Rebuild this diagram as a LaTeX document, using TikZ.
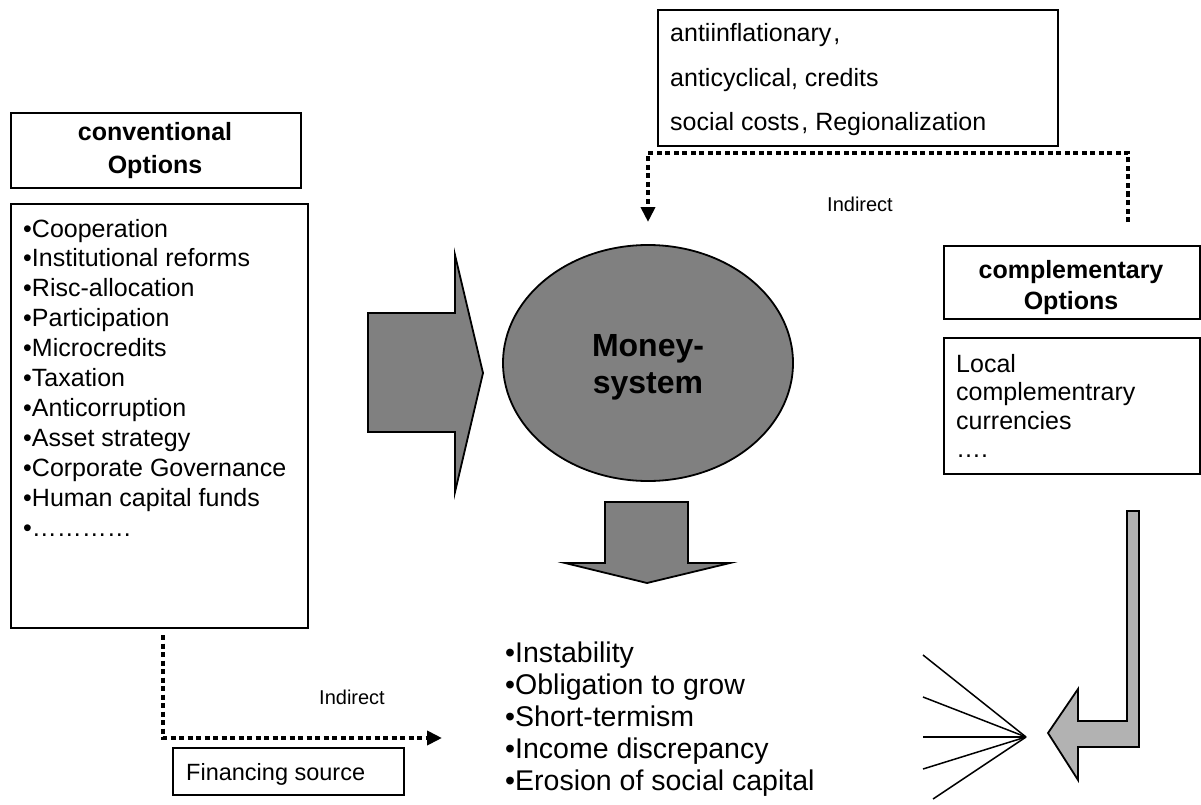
\documentclass[tikz,border=0pt]{standalone}
\usepackage{fontspec}
\setmainfont{Liberation Sans}
\usetikzlibrary{calc}
\usetikzlibrary{arrows.meta}
\usetikzlibrary{shapes.geometric}

\tikzset{
	box/.style = {draw, line width=1.8pt, inner sep=0pt, anchor=north west},
	listtext/.style = {inner sep=0pt, anchor=base west, font=\fontsize{25}{30}\selectfont},
	titletext/.style = {inner sep=0pt, anchor=base, font=\fontsize{25}{30}\selectfont\bfseries},
	bigarrow/.style = {fill=gray, draw=black, line width=1.8pt},
	indirect/.style = {line width=4.8pt, dash pattern=on 5pt off 3.5pt, -{Triangle[width=14pt,length=15pt]}},
	ray/.style = {line width=1.5pt}
}

\begin{document}
\begin{tikzpicture}[x=1pt, y=-1pt]

	\useasboundingbox (0,0) rectangle (1201,805);

	% conventional options
	\node [box, minimum width=290, minimum height=75] (convTitle) at (10,112) {};
	\node [titletext] (convTitleA) at (155,141) {conventional};
	\node [titletext] (convTitleB) at (155,174) {Options};
	\node [box, minimum width=297, minimum height=424] (convList) at (10,203) {};
	\foreach \txt [count=\i] in {Cooperation, Institutional reforms, Risc-allocation, Participation, Microcredits, Taxation, Anticorruption, Asset strategy, Corporate Governance, Human capital funds, …………}
		\node [listtext] (conv\i) at (23, {237 + 29.9*(\i-1)}) {•\txt};

	% money system
	\node [ellipse, bigarrow, minimum width=290, minimum height=236, inner sep=0pt] (money) at (648,363) {};
	\node [align=center, inner sep=0pt, font=\fontsize{32}{37}\selectfont\bfseries] (moneyText) at ($(money.center)+(0,4)$) {Money-\\system};

	% arrow into the money system
	\draw [bigarrow] (368,313) -- (455,313) -- (455,255) -- (483,373) -- (455,492) -- (455,432) -- (368,432) -- cycle;
	% arrow out of the money system
	\draw [bigarrow] (605,502) -- (688,502) -- (688,563) -- (730,563) -- (647,583) -- (565,563) -- (605,563) -- cycle;

	% conditions above
	\node [box, minimum width=400, minimum height=136] (cond) at (657,9) {};
	\foreach \txt [count=\i] in {{antiinflationary\kern2pt,}, {anticyclical, credits}, {social costs\kern2pt, Regionalization}}
		\node [listtext] (cond\i) at (670, {42 + 44.5*(\i-1)}) {\txt};

	% complementary options
	\node [box, minimum width=256, minimum height=73] (compTitle) at (943,245) {};
	\node [titletext] (compTitleA) at (1071,278) {complementary};
	\node [titletext] (compTitleB) at (1071,309) {Options};
	\node [box, minimum width=256, minimum height=136] (compList) at (943,337) {};
	\foreach \txt [count=\i] in {Local, complementrary, currencies, ….}
		\node [listtext] (comp\i) at (956, {372 + 28.5*(\i-1)}) {\txt};

	% consequences
	\foreach \txt [count=\i] in {Instability, Obligation to grow, Short-termism, Income discrepancy, Erosion of social capital}
		\node [listtext, font=\fontsize{28.5}{32}\selectfont] (cons\i) at (505, {662 + 32*(\i-1)}) {•\txt};

	% financing source
	\node [box, minimum width=231, minimum height=47] (finSrc) at (172,747) {};
	\node [listtext, font=\fontsize{23.5}{28}\selectfont] (finText) at (186,780) {Financing source};

	% indirect links
	\coordinate (compTop) at (1128,222);
	\coordinate (condR) at (1128,153);
	\coordinate (condL) at (648,153);
	\coordinate (moneyTop) at (648,222);
	\draw [indirect] (compTop) -- (condR) -- (condL) -- (moneyTop);
	\node [font=\fontsize{20}{24}\selectfont] (indTop) at (860,204) {Indirect};

	\coordinate (convBottom) at (163,635);
	\coordinate (finCorner) at (163,738);
	\coordinate (consLeft) at (442,738);
	\draw [indirect] (convBottom) -- (finCorner) -- (consLeft);
	\node [font=\fontsize{20}{24}\selectfont] (indBottom) at (352,697) {Indirect};

	% complementary arrow back to the consequences
	\draw [bigarrow, fill=gray!60] (1127,511) -- (1139,511) -- (1139,747) -- (1078,747) -- (1078,780) -- (1048,733) -- (1078,689) -- (1078,721) -- (1127,721) -- cycle;

	% burst
	\coordinate (burst) at (1026,737);
	\foreach \p in {(923,655), (923,697), (923,737), (923,769), (933,799)}
		\draw [ray] (burst) -- \p;

\end{tikzpicture}
\end{document}
